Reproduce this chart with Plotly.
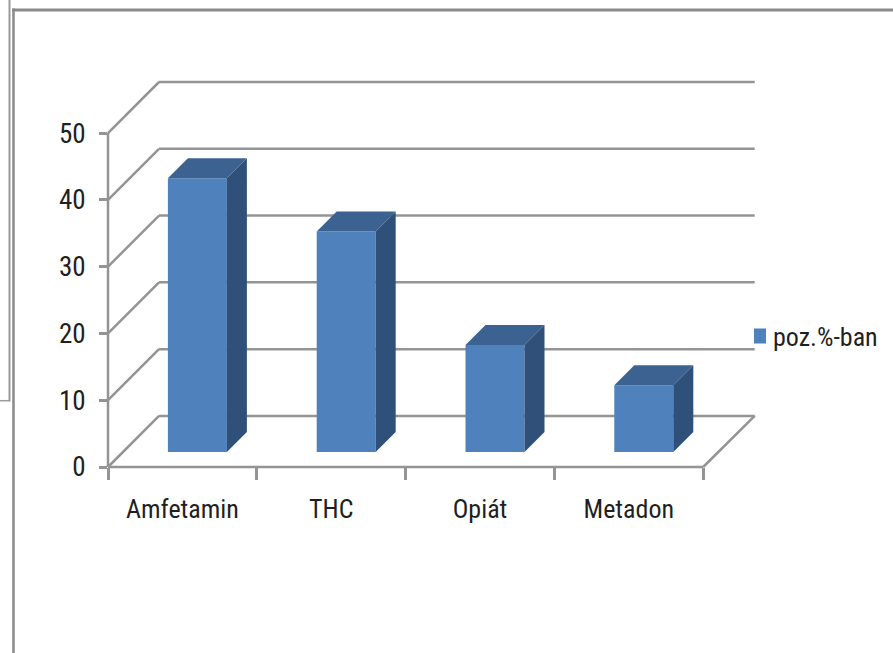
import plotly.graph_objects as go

categories = ["Amfetamin", "THC", "Opiát", "Metadon"]
values = [41, 33, 16, 10]
series_name = "poz.%-ban"
y_ticks = [0, 10, 20, 30, 40, 50]

W, H = 893, 653
LEFT, RIGHT, TOP, BOTTOM = 108.0, 754.7, 82.3, 466.7
CAT_PX = 148.8
UNIT_PX = 6.668
WALL = 51.0
BAR_OFF, BAR_DEPTH, BAR_W = 15.0, 20.0, 59.0
GRID = "#949494"
TXT = "#1f1f1f"
FONT = "Roboto Condensed, Lato, sans-serif"

xmax = (RIGHT - LEFT) / CAT_PX
ymax = (BOTTOM - TOP) / UNIT_PX
dx_wall, dy_wall = WALL / CAT_PX, WALL / UNIT_PX
dx_off, dy_off = BAR_OFF / CAT_PX, BAR_OFF / UNIT_PX
dx_d, dy_d = BAR_DEPTH / CAT_PX, BAR_DEPTH / UNIT_PX
bw = BAR_W / CAT_PX
dom_end = (RIGHT - LEFT) / (W - LEFT)


def px(v):
    return v / xmax * dom_end


def py(v):
    return v / ymax


def seg(x0, y0, x1, y1, color=GRID, width=2.5):
    return dict(type="line", xref="paper", yref="paper", layer="below",
                x0=px(x0), y0=py(y0), x1=px(x1), y1=py(y1),
                line=dict(color=color, width=width))


def page_seg(x0, y0, x1, y1, width=3, color="#8a8a8a"):
    return dict(type="line", xref="paper", yref="paper", layer="below",
                x0=(x0 - LEFT) / (W - LEFT), x1=(x1 - LEFT) / (W - LEFT),
                y0=(BOTTOM - y0) / (BOTTOM - TOP), y1=(BOTTOM - y1) / (BOTTOM - TOP),
                line=dict(color=color, width=width))


shapes = []
for v in y_ticks:
    shapes.append(seg(0, v, dx_wall, v + dy_wall))
    shapes.append(seg(dx_wall, v + dy_wall, xmax, v + dy_wall))
shapes.append(seg(0, 0, 0, 50))
shapes.append(seg(0, 0, 4, 0))
shapes.append(seg(4, 0, xmax, dy_wall))
shapes += [
    page_seg(12, 10.5, W, 10.5),
    page_seg(13.5, 9, 13.5, H, width=2.5),
    page_seg(9.5, 0, 9.5, 401, width=2, color="#9a9a9a"),
    page_seg(0, 400.5, 10, 400.5, width=1.5, color="#9a9a9a"),
]

fig = go.Figure()
centers = [i + 0.5 for i in range(len(categories))]
fig.add_trace(go.Bar(
    x=[c + dx_off for c in centers], y=values, base=dy_off, width=bw,
    name=series_name, marker=dict(color="#4f81bd", line=dict(width=0)),
    hoverinfo="skip", showlegend=True,
))
for c, v in zip(centers, values):
    xl = c + dx_off - bw / 2
    xr = c + dx_off + bw / 2
    yb = dy_off
    yt = dy_off + v
    fig.add_trace(go.Scatter(
        x=[xl, xr, xr + dx_d, xl + dx_d, xl], y=[yt, yt, yt + dy_d, yt + dy_d, yt],
        mode="lines", fill="toself", fillcolor="#3c6292", line=dict(width=0),
        showlegend=False, hoverinfo="skip"))
    fig.add_trace(go.Scatter(
        x=[xr, xr + dx_d, xr + dx_d, xr, xr], y=[yb, yb + dy_d, yt + dy_d, yt, yb],
        mode="lines", fill="toself", fillcolor="#2f5179", line=dict(width=0),
        showlegend=False, hoverinfo="skip"))

fig.update_layout(
    width=W, height=H, autosize=False,
    margin=dict(l=LEFT, r=0, t=TOP, b=H - BOTTOM, pad=0),
    paper_bgcolor="white", plot_bgcolor="rgba(0,0,0,0)",
    font=dict(family=FONT, size=26, color=TXT),
    shapes=shapes,
    showlegend=True,
    legend=dict(x=(733 - LEFT) / (W - LEFT), xanchor="left",
                y=(BOTTOM - 336) / (BOTTOM - TOP), yanchor="middle",
                bgcolor="rgba(0,0,0,0)", itemwidth=30, font=dict(family=FONT, size=26, color=TXT)),
    xaxis=dict(
        domain=[0, dom_end],
        range=[0, xmax], tickmode="array", tickvals=centers, ticktext=categories,
        ticks="outside", ticklen=19, tickcolor="rgba(0,0,0,0)", showgrid=False, zeroline=False,
        showline=False, fixedrange=True,
        minor=dict(tickmode="array", tickvals=list(range(len(categories) + 1)),
                   ticks="outside", ticklen=12, tickwidth=2.5, tickcolor=GRID, showgrid=False),
    ),
    yaxis=dict(
        range=[0, ymax], tickmode="array", tickvals=y_ticks, ticks="outside",
        ticklen=8, tickwidth=2.5, tickcolor=GRID, showgrid=False, zeroline=False,
        showline=False, ticklabelstandoff=8, fixedrange=True,
        tickfont=dict(family=FONT, size=27, color=TXT),
    ),
)

post = """
document.body.style.margin='0';document.body.style.overflow='hidden';
var gd=document.getElementById('{plot_id}');
function nudge(){document.querySelectorAll('.legend .legendpoints').forEach(function(g){g.setAttribute('transform','translate(7,0) scale(1,1.25)');});}
nudge();if(gd&&gd.on){gd.on('plotly_afterplot',nudge);}setTimeout(nudge,50);
"""
fig.write_html("out.html", config={"displayModeBar": False}, post_script=post)
